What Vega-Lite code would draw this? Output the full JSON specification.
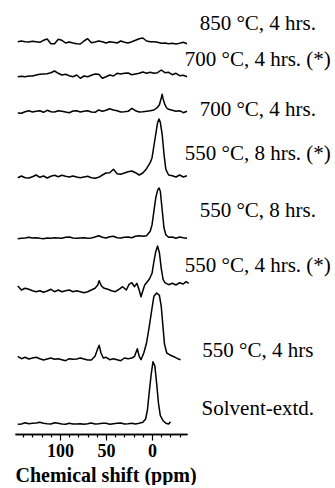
{
  "$schema": "https://vega.github.io/schema/vega-lite/v6.json",
  "padding": {"left": 15, "top": 10, "right": 0, "bottom": 0},
  "autosize": {"type": "pad"},
  "bounds": "flush",
  "spacing": 0,
  "background": "white",
  "config": {
    "view": {"stroke": null},
    "font": "Liberation Serif",
    "line": {"color": "black", "strokeWidth": 1.5, "strokeJoin": "round"},
    "text": {"font": "Liberation Serif", "fontSize": 21, "align": "center", "baseline": "alphabetic", "color": "black"}
  },
  "resolve": {"scale": {"x": "independent", "y": "independent"}},
  "data": {
    "values": [
      {"sample": "850 °C, 4 hrs.", "ppm": 146, "intensity": 0.3},
      {"sample": "850 °C, 4 hrs.", "ppm": 142, "intensity": 1},
      {"sample": "850 °C, 4 hrs.", "ppm": 138, "intensity": 0.3},
      {"sample": "850 °C, 4 hrs.", "ppm": 134, "intensity": 0},
      {"sample": "850 °C, 4 hrs.", "ppm": 130, "intensity": 0.7},
      {"sample": "850 °C, 4 hrs.", "ppm": 126, "intensity": 0.3},
      {"sample": "850 °C, 4 hrs.", "ppm": 122, "intensity": -0.3},
      {"sample": "850 °C, 4 hrs.", "ppm": 118, "intensity": 1.7},
      {"sample": "850 °C, 4 hrs.", "ppm": 114, "intensity": 3},
      {"sample": "850 °C, 4 hrs.", "ppm": 110, "intensity": -1.7},
      {"sample": "850 °C, 4 hrs.", "ppm": 106, "intensity": -1.7},
      {"sample": "850 °C, 4 hrs.", "ppm": 102, "intensity": 2.7},
      {"sample": "850 °C, 4 hrs.", "ppm": 98, "intensity": 1.7},
      {"sample": "850 °C, 4 hrs.", "ppm": 94, "intensity": -1},
      {"sample": "850 °C, 4 hrs.", "ppm": 90, "intensity": 0},
      {"sample": "850 °C, 4 hrs.", "ppm": 86, "intensity": -1},
      {"sample": "850 °C, 4 hrs.", "ppm": 82, "intensity": -1.7},
      {"sample": "850 °C, 4 hrs.", "ppm": 78, "intensity": -2},
      {"sample": "850 °C, 4 hrs.", "ppm": 74, "intensity": 1},
      {"sample": "850 °C, 4 hrs.", "ppm": 70, "intensity": 3.3},
      {"sample": "850 °C, 4 hrs.", "ppm": 66, "intensity": -0.7},
      {"sample": "850 °C, 4 hrs.", "ppm": 62, "intensity": 0},
      {"sample": "850 °C, 4 hrs.", "ppm": 58, "intensity": 1},
      {"sample": "850 °C, 4 hrs.", "ppm": 54, "intensity": 0.3},
      {"sample": "850 °C, 4 hrs.", "ppm": 50, "intensity": -1},
      {"sample": "850 °C, 4 hrs.", "ppm": 46, "intensity": 0.3},
      {"sample": "850 °C, 4 hrs.", "ppm": 42, "intensity": -0.3},
      {"sample": "850 °C, 4 hrs.", "ppm": 38, "intensity": -1},
      {"sample": "850 °C, 4 hrs.", "ppm": 34, "intensity": 1},
      {"sample": "850 °C, 4 hrs.", "ppm": 30, "intensity": -0.3},
      {"sample": "850 °C, 4 hrs.", "ppm": 26, "intensity": -1},
      {"sample": "850 °C, 4 hrs.", "ppm": 22, "intensity": 0.3},
      {"sample": "850 °C, 4 hrs.", "ppm": 18, "intensity": 1.7},
      {"sample": "850 °C, 4 hrs.", "ppm": 14, "intensity": 3.3},
      {"sample": "850 °C, 4 hrs.", "ppm": 10, "intensity": 4},
      {"sample": "850 °C, 4 hrs.", "ppm": 6, "intensity": 1},
      {"sample": "850 °C, 4 hrs.", "ppm": 2, "intensity": 0.3},
      {"sample": "850 °C, 4 hrs.", "ppm": -2, "intensity": 0.3},
      {"sample": "850 °C, 4 hrs.", "ppm": -6, "intensity": -0.3},
      {"sample": "850 °C, 4 hrs.", "ppm": -10, "intensity": -1.3},
      {"sample": "850 °C, 4 hrs.", "ppm": -14, "intensity": -1},
      {"sample": "850 °C, 4 hrs.", "ppm": -18, "intensity": -1.7},
      {"sample": "850 °C, 4 hrs.", "ppm": -22, "intensity": -1.3},
      {"sample": "850 °C, 4 hrs.", "ppm": -26, "intensity": -2},
      {"sample": "850 °C, 4 hrs.", "ppm": -30, "intensity": -1.3},
      {"sample": "850 °C, 4 hrs.", "ppm": -34, "intensity": -0.3},
      {"sample": "850 °C, 4 hrs.", "ppm": -38, "intensity": -1.7},

      {"sample": "700 °C, 4 hrs. (*)", "ppm": 146, "intensity": -0.7},
      {"sample": "700 °C, 4 hrs. (*)", "ppm": 142, "intensity": -0.3},
      {"sample": "700 °C, 4 hrs. (*)", "ppm": 138, "intensity": -0.7},
      {"sample": "700 °C, 4 hrs. (*)", "ppm": 134, "intensity": 0},
      {"sample": "700 °C, 4 hrs. (*)", "ppm": 130, "intensity": 0},
      {"sample": "700 °C, 4 hrs. (*)", "ppm": 126, "intensity": 1},
      {"sample": "700 °C, 4 hrs. (*)", "ppm": 122, "intensity": 1.7},
      {"sample": "700 °C, 4 hrs. (*)", "ppm": 118, "intensity": 2},
      {"sample": "700 °C, 4 hrs. (*)", "ppm": 114, "intensity": 2.3},
      {"sample": "700 °C, 4 hrs. (*)", "ppm": 110, "intensity": 3.3},
      {"sample": "700 °C, 4 hrs. (*)", "ppm": 106, "intensity": 5},
      {"sample": "700 °C, 4 hrs. (*)", "ppm": 102, "intensity": 2.7},
      {"sample": "700 °C, 4 hrs. (*)", "ppm": 98, "intensity": 1},
      {"sample": "700 °C, 4 hrs. (*)", "ppm": 94, "intensity": 1.7},
      {"sample": "700 °C, 4 hrs. (*)", "ppm": 90, "intensity": 0.3},
      {"sample": "700 °C, 4 hrs. (*)", "ppm": 86, "intensity": -0.7},
      {"sample": "700 °C, 4 hrs. (*)", "ppm": 82, "intensity": 1},
      {"sample": "700 °C, 4 hrs. (*)", "ppm": 78, "intensity": -2.3},
      {"sample": "700 °C, 4 hrs. (*)", "ppm": 74, "intensity": 0},
      {"sample": "700 °C, 4 hrs. (*)", "ppm": 70, "intensity": -0.7},
      {"sample": "700 °C, 4 hrs. (*)", "ppm": 66, "intensity": 0.7},
      {"sample": "700 °C, 4 hrs. (*)", "ppm": 62, "intensity": 2},
      {"sample": "700 °C, 4 hrs. (*)", "ppm": 58, "intensity": 1.7},
      {"sample": "700 °C, 4 hrs. (*)", "ppm": 54, "intensity": -2.3},
      {"sample": "700 °C, 4 hrs. (*)", "ppm": 50, "intensity": -0.7},
      {"sample": "700 °C, 4 hrs. (*)", "ppm": 46, "intensity": 1},
      {"sample": "700 °C, 4 hrs. (*)", "ppm": 42, "intensity": 0},
      {"sample": "700 °C, 4 hrs. (*)", "ppm": 38, "intensity": 2.7},
      {"sample": "700 °C, 4 hrs. (*)", "ppm": 34, "intensity": 2},
      {"sample": "700 °C, 4 hrs. (*)", "ppm": 30, "intensity": 2.7},
      {"sample": "700 °C, 4 hrs. (*)", "ppm": 26, "intensity": 3},
      {"sample": "700 °C, 4 hrs. (*)", "ppm": 22, "intensity": 1.3},
      {"sample": "700 °C, 4 hrs. (*)", "ppm": 18, "intensity": 2},
      {"sample": "700 °C, 4 hrs. (*)", "ppm": 14, "intensity": 2.7},
      {"sample": "700 °C, 4 hrs. (*)", "ppm": 10, "intensity": 4},
      {"sample": "700 °C, 4 hrs. (*)", "ppm": 6, "intensity": 2.7},
      {"sample": "700 °C, 4 hrs. (*)", "ppm": 2, "intensity": 3.7},
      {"sample": "700 °C, 4 hrs. (*)", "ppm": -2, "intensity": 2.7},
      {"sample": "700 °C, 4 hrs. (*)", "ppm": -6, "intensity": 3.3},
      {"sample": "700 °C, 4 hrs. (*)", "ppm": -10, "intensity": 6},
      {"sample": "700 °C, 4 hrs. (*)", "ppm": -14, "intensity": 3.3},
      {"sample": "700 °C, 4 hrs. (*)", "ppm": -18, "intensity": 3.7},
      {"sample": "700 °C, 4 hrs. (*)", "ppm": -22, "intensity": 1.3},
      {"sample": "700 °C, 4 hrs. (*)", "ppm": -26, "intensity": 2.7},
      {"sample": "700 °C, 4 hrs. (*)", "ppm": -30, "intensity": 0.3},
      {"sample": "700 °C, 4 hrs. (*)", "ppm": -34, "intensity": 0.7},
      {"sample": "700 °C, 4 hrs. (*)", "ppm": -38, "intensity": -0.7},

      {"sample": "700 °C, 4 hrs.", "ppm": 146, "intensity": -1},
      {"sample": "700 °C, 4 hrs.", "ppm": 142, "intensity": -1.3},
      {"sample": "700 °C, 4 hrs.", "ppm": 138, "intensity": 0.3},
      {"sample": "700 °C, 4 hrs.", "ppm": 134, "intensity": 1.3},
      {"sample": "700 °C, 4 hrs.", "ppm": 130, "intensity": 0},
      {"sample": "700 °C, 4 hrs.", "ppm": 126, "intensity": 0.7},
      {"sample": "700 °C, 4 hrs.", "ppm": 122, "intensity": 1.3},
      {"sample": "700 °C, 4 hrs.", "ppm": 118, "intensity": -0.3},
      {"sample": "700 °C, 4 hrs.", "ppm": 114, "intensity": 1.7},
      {"sample": "700 °C, 4 hrs.", "ppm": 110, "intensity": 0.3},
      {"sample": "700 °C, 4 hrs.", "ppm": 106, "intensity": 0},
      {"sample": "700 °C, 4 hrs.", "ppm": 102, "intensity": 1.3},
      {"sample": "700 °C, 4 hrs.", "ppm": 98, "intensity": 0.7},
      {"sample": "700 °C, 4 hrs.", "ppm": 94, "intensity": 0},
      {"sample": "700 °C, 4 hrs.", "ppm": 90, "intensity": -0.7},
      {"sample": "700 °C, 4 hrs.", "ppm": 86, "intensity": 1},
      {"sample": "700 °C, 4 hrs.", "ppm": 82, "intensity": 1.3},
      {"sample": "700 °C, 4 hrs.", "ppm": 78, "intensity": 0},
      {"sample": "700 °C, 4 hrs.", "ppm": 74, "intensity": 0.7},
      {"sample": "700 °C, 4 hrs.", "ppm": 70, "intensity": 1.3},
      {"sample": "700 °C, 4 hrs.", "ppm": 66, "intensity": 0},
      {"sample": "700 °C, 4 hrs.", "ppm": 62, "intensity": -0.3},
      {"sample": "700 °C, 4 hrs.", "ppm": 58, "intensity": 2},
      {"sample": "700 °C, 4 hrs.", "ppm": 54, "intensity": 0.7},
      {"sample": "700 °C, 4 hrs.", "ppm": 50, "intensity": 1.7},
      {"sample": "700 °C, 4 hrs.", "ppm": 46, "intensity": 3.3},
      {"sample": "700 °C, 4 hrs.", "ppm": 42, "intensity": 2},
      {"sample": "700 °C, 4 hrs.", "ppm": 38, "intensity": 1.3},
      {"sample": "700 °C, 4 hrs.", "ppm": 34, "intensity": 0},
      {"sample": "700 °C, 4 hrs.", "ppm": 30, "intensity": 0.3},
      {"sample": "700 °C, 4 hrs.", "ppm": 26, "intensity": 0.7},
      {"sample": "700 °C, 4 hrs.", "ppm": 22, "intensity": 3.7},
      {"sample": "700 °C, 4 hrs.", "ppm": 18, "intensity": 1.3},
      {"sample": "700 °C, 4 hrs.", "ppm": 14, "intensity": 0},
      {"sample": "700 °C, 4 hrs.", "ppm": 10, "intensity": 0.3},
      {"sample": "700 °C, 4 hrs.", "ppm": 6, "intensity": 0.7},
      {"sample": "700 °C, 4 hrs.", "ppm": 2, "intensity": 1.3},
      {"sample": "700 °C, 4 hrs.", "ppm": -2, "intensity": 2},
      {"sample": "700 °C, 4 hrs.", "ppm": -6, "intensity": 4.7},
      {"sample": "700 °C, 4 hrs.", "ppm": -8, "intensity": 7.3},
      {"sample": "700 °C, 4 hrs.", "ppm": -10, "intensity": 14},
      {"sample": "700 °C, 4 hrs.", "ppm": -11, "intensity": 17.7},
      {"sample": "700 °C, 4 hrs.", "ppm": -12, "intensity": 13.3},
      {"sample": "700 °C, 4 hrs.", "ppm": -14, "intensity": 7.3},
      {"sample": "700 °C, 4 hrs.", "ppm": -16, "intensity": 4},
      {"sample": "700 °C, 4 hrs.", "ppm": -18, "intensity": 2.7},
      {"sample": "700 °C, 4 hrs.", "ppm": -22, "intensity": 1.7},
      {"sample": "700 °C, 4 hrs.", "ppm": -26, "intensity": 0.7},
      {"sample": "700 °C, 4 hrs.", "ppm": -30, "intensity": 1.3},
      {"sample": "700 °C, 4 hrs.", "ppm": -34, "intensity": -0.7},
      {"sample": "700 °C, 4 hrs.", "ppm": -38, "intensity": 0.7},

      {"sample": "550 °C, 8 hrs. (*)", "ppm": 146, "intensity": -0.7},
      {"sample": "550 °C, 8 hrs. (*)", "ppm": 142, "intensity": 1},
      {"sample": "550 °C, 8 hrs. (*)", "ppm": 138, "intensity": -0.7},
      {"sample": "550 °C, 8 hrs. (*)", "ppm": 134, "intensity": -1},
      {"sample": "550 °C, 8 hrs. (*)", "ppm": 130, "intensity": 0.3},
      {"sample": "550 °C, 8 hrs. (*)", "ppm": 126, "intensity": 2},
      {"sample": "550 °C, 8 hrs. (*)", "ppm": 122, "intensity": -0.3},
      {"sample": "550 °C, 8 hrs. (*)", "ppm": 118, "intensity": 1},
      {"sample": "550 °C, 8 hrs. (*)", "ppm": 114, "intensity": -1},
      {"sample": "550 °C, 8 hrs. (*)", "ppm": 110, "intensity": 0.7},
      {"sample": "550 °C, 8 hrs. (*)", "ppm": 106, "intensity": 1.7},
      {"sample": "550 °C, 8 hrs. (*)", "ppm": 102, "intensity": 0.3},
      {"sample": "550 °C, 8 hrs. (*)", "ppm": 98, "intensity": 1.7},
      {"sample": "550 °C, 8 hrs. (*)", "ppm": 94, "intensity": 0.7},
      {"sample": "550 °C, 8 hrs. (*)", "ppm": 90, "intensity": 0},
      {"sample": "550 °C, 8 hrs. (*)", "ppm": 86, "intensity": 1},
      {"sample": "550 °C, 8 hrs. (*)", "ppm": 82, "intensity": 0},
      {"sample": "550 °C, 8 hrs. (*)", "ppm": 78, "intensity": -0.7},
      {"sample": "550 °C, 8 hrs. (*)", "ppm": 74, "intensity": 0},
      {"sample": "550 °C, 8 hrs. (*)", "ppm": 70, "intensity": 0.7},
      {"sample": "550 °C, 8 hrs. (*)", "ppm": 66, "intensity": -0.7},
      {"sample": "550 °C, 8 hrs. (*)", "ppm": 62, "intensity": -1.3},
      {"sample": "550 °C, 8 hrs. (*)", "ppm": 58, "intensity": -0.3},
      {"sample": "550 °C, 8 hrs. (*)", "ppm": 54, "intensity": 2},
      {"sample": "550 °C, 8 hrs. (*)", "ppm": 50, "intensity": 4},
      {"sample": "550 °C, 8 hrs. (*)", "ppm": 46, "intensity": 4.3},
      {"sample": "550 °C, 8 hrs. (*)", "ppm": 42, "intensity": 7.7},
      {"sample": "550 °C, 8 hrs. (*)", "ppm": 38, "intensity": 3.3},
      {"sample": "550 °C, 8 hrs. (*)", "ppm": 34, "intensity": 2.7},
      {"sample": "550 °C, 8 hrs. (*)", "ppm": 30, "intensity": 4},
      {"sample": "550 °C, 8 hrs. (*)", "ppm": 26, "intensity": 5.3},
      {"sample": "550 °C, 8 hrs. (*)", "ppm": 22, "intensity": 6},
      {"sample": "550 °C, 8 hrs. (*)", "ppm": 18, "intensity": 4.3},
      {"sample": "550 °C, 8 hrs. (*)", "ppm": 14, "intensity": 2},
      {"sample": "550 °C, 8 hrs. (*)", "ppm": 10, "intensity": 4},
      {"sample": "550 °C, 8 hrs. (*)", "ppm": 6, "intensity": 8.3},
      {"sample": "550 °C, 8 hrs. (*)", "ppm": 2, "intensity": 14.3},
      {"sample": "550 °C, 8 hrs. (*)", "ppm": 0, "intensity": 19.3},
      {"sample": "550 °C, 8 hrs. (*)", "ppm": -2, "intensity": 31},
      {"sample": "550 °C, 8 hrs. (*)", "ppm": -4, "intensity": 42.7},
      {"sample": "550 °C, 8 hrs. (*)", "ppm": -6, "intensity": 54.3},
      {"sample": "550 °C, 8 hrs. (*)", "ppm": -7.6, "intensity": 58},
      {"sample": "550 °C, 8 hrs. (*)", "ppm": -9, "intensity": 54.7},
      {"sample": "550 °C, 8 hrs. (*)", "ppm": -11, "intensity": 42.7},
      {"sample": "550 °C, 8 hrs. (*)", "ppm": -13, "intensity": 22.7},
      {"sample": "550 °C, 8 hrs. (*)", "ppm": -15, "intensity": 7.7},
      {"sample": "550 °C, 8 hrs. (*)", "ppm": -18, "intensity": 2},
      {"sample": "550 °C, 8 hrs. (*)", "ppm": -22, "intensity": 1.3},
      {"sample": "550 °C, 8 hrs. (*)", "ppm": -26, "intensity": 0},
      {"sample": "550 °C, 8 hrs. (*)", "ppm": -30, "intensity": 2},
      {"sample": "550 °C, 8 hrs. (*)", "ppm": -34, "intensity": 0},
      {"sample": "550 °C, 8 hrs. (*)", "ppm": -38, "intensity": 1.3},

      {"sample": "550 °C, 8 hrs.", "ppm": 146, "intensity": -0.7},
      {"sample": "550 °C, 8 hrs.", "ppm": 142, "intensity": -0.3},
      {"sample": "550 °C, 8 hrs.", "ppm": 138, "intensity": 0},
      {"sample": "550 °C, 8 hrs.", "ppm": 134, "intensity": 0.7},
      {"sample": "550 °C, 8 hrs.", "ppm": 130, "intensity": 0},
      {"sample": "550 °C, 8 hrs.", "ppm": 126, "intensity": 0.3},
      {"sample": "550 °C, 8 hrs.", "ppm": 122, "intensity": -0.3},
      {"sample": "550 °C, 8 hrs.", "ppm": 118, "intensity": -0.7},
      {"sample": "550 °C, 8 hrs.", "ppm": 114, "intensity": 0},
      {"sample": "550 °C, 8 hrs.", "ppm": 110, "intensity": -0.3},
      {"sample": "550 °C, 8 hrs.", "ppm": 106, "intensity": 0.3},
      {"sample": "550 °C, 8 hrs.", "ppm": 102, "intensity": 0},
      {"sample": "550 °C, 8 hrs.", "ppm": 98, "intensity": -0.3},
      {"sample": "550 °C, 8 hrs.", "ppm": 94, "intensity": 0.7},
      {"sample": "550 °C, 8 hrs.", "ppm": 90, "intensity": 1},
      {"sample": "550 °C, 8 hrs.", "ppm": 86, "intensity": 0},
      {"sample": "550 °C, 8 hrs.", "ppm": 82, "intensity": -0.3},
      {"sample": "550 °C, 8 hrs.", "ppm": 78, "intensity": 0},
      {"sample": "550 °C, 8 hrs.", "ppm": 74, "intensity": 0.3},
      {"sample": "550 °C, 8 hrs.", "ppm": 70, "intensity": -0.3},
      {"sample": "550 °C, 8 hrs.", "ppm": 66, "intensity": 0},
      {"sample": "550 °C, 8 hrs.", "ppm": 62, "intensity": 1},
      {"sample": "550 °C, 8 hrs.", "ppm": 58, "intensity": 2.3},
      {"sample": "550 °C, 8 hrs.", "ppm": 54, "intensity": 0.7},
      {"sample": "550 °C, 8 hrs.", "ppm": 50, "intensity": 0},
      {"sample": "550 °C, 8 hrs.", "ppm": 46, "intensity": 1.3},
      {"sample": "550 °C, 8 hrs.", "ppm": 42, "intensity": 1.7},
      {"sample": "550 °C, 8 hrs.", "ppm": 38, "intensity": 0.3},
      {"sample": "550 °C, 8 hrs.", "ppm": 34, "intensity": 0},
      {"sample": "550 °C, 8 hrs.", "ppm": 30, "intensity": 0.7},
      {"sample": "550 °C, 8 hrs.", "ppm": 26, "intensity": 1},
      {"sample": "550 °C, 8 hrs.", "ppm": 22, "intensity": 0.3},
      {"sample": "550 °C, 8 hrs.", "ppm": 18, "intensity": 1.7},
      {"sample": "550 °C, 8 hrs.", "ppm": 14, "intensity": 2.3},
      {"sample": "550 °C, 8 hrs.", "ppm": 10, "intensity": 1.7},
      {"sample": "550 °C, 8 hrs.", "ppm": 6, "intensity": 2.3},
      {"sample": "550 °C, 8 hrs.", "ppm": 2, "intensity": 6.7},
      {"sample": "550 °C, 8 hrs.", "ppm": 0, "intensity": 13.3},
      {"sample": "550 °C, 8 hrs.", "ppm": -2, "intensity": 26.7},
      {"sample": "550 °C, 8 hrs.", "ppm": -4, "intensity": 40},
      {"sample": "550 °C, 8 hrs.", "ppm": -6, "intensity": 47.7},
      {"sample": "550 °C, 8 hrs.", "ppm": -7.6, "intensity": 50},
      {"sample": "550 °C, 8 hrs.", "ppm": -9, "intensity": 46.7},
      {"sample": "550 °C, 8 hrs.", "ppm": -11, "intensity": 28.3},
      {"sample": "550 °C, 8 hrs.", "ppm": -13, "intensity": 10},
      {"sample": "550 °C, 8 hrs.", "ppm": -15, "intensity": 3.3},
      {"sample": "550 °C, 8 hrs.", "ppm": -18, "intensity": 0.7},
      {"sample": "550 °C, 8 hrs.", "ppm": -22, "intensity": 1},
      {"sample": "550 °C, 8 hrs.", "ppm": -26, "intensity": -0.3},
      {"sample": "550 °C, 8 hrs.", "ppm": -30, "intensity": 1},
      {"sample": "550 °C, 8 hrs.", "ppm": -34, "intensity": 0.3},
      {"sample": "550 °C, 8 hrs.", "ppm": -38, "intensity": -0.3},

      {"sample": "550 °C, 4 hrs. (*)", "ppm": 146, "intensity": 4},
      {"sample": "550 °C, 4 hrs. (*)", "ppm": 142, "intensity": 0},
      {"sample": "550 °C, 4 hrs. (*)", "ppm": 138, "intensity": 1.7},
      {"sample": "550 °C, 4 hrs. (*)", "ppm": 134, "intensity": 0.7},
      {"sample": "550 °C, 4 hrs. (*)", "ppm": 130, "intensity": -0.7},
      {"sample": "550 °C, 4 hrs. (*)", "ppm": 126, "intensity": -1.7},
      {"sample": "550 °C, 4 hrs. (*)", "ppm": 122, "intensity": -0.7},
      {"sample": "550 °C, 4 hrs. (*)", "ppm": 118, "intensity": -2.3},
      {"sample": "550 °C, 4 hrs. (*)", "ppm": 114, "intensity": -1},
      {"sample": "550 °C, 4 hrs. (*)", "ppm": 110, "intensity": 0.7},
      {"sample": "550 °C, 4 hrs. (*)", "ppm": 106, "intensity": -1.7},
      {"sample": "550 °C, 4 hrs. (*)", "ppm": 102, "intensity": 0},
      {"sample": "550 °C, 4 hrs. (*)", "ppm": 98, "intensity": -1.7},
      {"sample": "550 °C, 4 hrs. (*)", "ppm": 94, "intensity": -0.7},
      {"sample": "550 °C, 4 hrs. (*)", "ppm": 90, "intensity": 0},
      {"sample": "550 °C, 4 hrs. (*)", "ppm": 86, "intensity": -1.7},
      {"sample": "550 °C, 4 hrs. (*)", "ppm": 82, "intensity": -0.7},
      {"sample": "550 °C, 4 hrs. (*)", "ppm": 78, "intensity": -1.7},
      {"sample": "550 °C, 4 hrs. (*)", "ppm": 74, "intensity": -2.7},
      {"sample": "550 °C, 4 hrs. (*)", "ppm": 70, "intensity": -1.7},
      {"sample": "550 °C, 4 hrs. (*)", "ppm": 66, "intensity": 0},
      {"sample": "550 °C, 4 hrs. (*)", "ppm": 62, "intensity": 1.7},
      {"sample": "550 °C, 4 hrs. (*)", "ppm": 59, "intensity": 5},
      {"sample": "550 °C, 4 hrs. (*)", "ppm": 57.5, "intensity": 9.3},
      {"sample": "550 °C, 4 hrs. (*)", "ppm": 55, "intensity": 4},
      {"sample": "550 °C, 4 hrs. (*)", "ppm": 52, "intensity": 1.7},
      {"sample": "550 °C, 4 hrs. (*)", "ppm": 48, "intensity": 0.7},
      {"sample": "550 °C, 4 hrs. (*)", "ppm": 44, "intensity": -0.7},
      {"sample": "550 °C, 4 hrs. (*)", "ppm": 40, "intensity": -1.7},
      {"sample": "550 °C, 4 hrs. (*)", "ppm": 36, "intensity": 0.7},
      {"sample": "550 °C, 4 hrs. (*)", "ppm": 32, "intensity": 3.3},
      {"sample": "550 °C, 4 hrs. (*)", "ppm": 28, "intensity": 0},
      {"sample": "550 °C, 4 hrs. (*)", "ppm": 25, "intensity": 5.7},
      {"sample": "550 °C, 4 hrs. (*)", "ppm": 22, "intensity": 7.3},
      {"sample": "550 °C, 4 hrs. (*)", "ppm": 19, "intensity": 3.3},
      {"sample": "550 °C, 4 hrs. (*)", "ppm": 16.5, "intensity": 6.7},
      {"sample": "550 °C, 4 hrs. (*)", "ppm": 14, "intensity": 0},
      {"sample": "550 °C, 4 hrs. (*)", "ppm": 12, "intensity": -6.7},
      {"sample": "550 °C, 4 hrs. (*)", "ppm": 10, "intensity": -0.7},
      {"sample": "550 °C, 4 hrs. (*)", "ppm": 8, "intensity": 5},
      {"sample": "550 °C, 4 hrs. (*)", "ppm": 6, "intensity": 7.3},
      {"sample": "550 °C, 4 hrs. (*)", "ppm": 3, "intensity": 10.7},
      {"sample": "550 °C, 4 hrs. (*)", "ppm": 0, "intensity": 16.7},
      {"sample": "550 °C, 4 hrs. (*)", "ppm": -2, "intensity": 28.3},
      {"sample": "550 °C, 4 hrs. (*)", "ppm": -4, "intensity": 38.3},
      {"sample": "550 °C, 4 hrs. (*)", "ppm": -6, "intensity": 44},
      {"sample": "550 °C, 4 hrs. (*)", "ppm": -8, "intensity": 37.3},
      {"sample": "550 °C, 4 hrs. (*)", "ppm": -10, "intensity": 21.7},
      {"sample": "550 °C, 4 hrs. (*)", "ppm": -12, "intensity": 10.7},
      {"sample": "550 °C, 4 hrs. (*)", "ppm": -14, "intensity": 7.3},
      {"sample": "550 °C, 4 hrs. (*)", "ppm": -18, "intensity": 5.3},
      {"sample": "550 °C, 4 hrs. (*)", "ppm": -22, "intensity": 6.7},
      {"sample": "550 °C, 4 hrs. (*)", "ppm": -26, "intensity": 5},
      {"sample": "550 °C, 4 hrs. (*)", "ppm": -30, "intensity": 7.3},
      {"sample": "550 °C, 4 hrs. (*)", "ppm": -34, "intensity": 6},
      {"sample": "550 °C, 4 hrs. (*)", "ppm": -37, "intensity": 8.3},
      {"sample": "550 °C, 4 hrs. (*)", "ppm": -40, "intensity": 6.7},

      {"sample": "550 °C, 4 hrs", "ppm": 146, "intensity": 1.7},
      {"sample": "550 °C, 4 hrs", "ppm": 142, "intensity": -0.7},
      {"sample": "550 °C, 4 hrs", "ppm": 138, "intensity": 0.7},
      {"sample": "550 °C, 4 hrs", "ppm": 134, "intensity": -1},
      {"sample": "550 °C, 4 hrs", "ppm": 130, "intensity": 0},
      {"sample": "550 °C, 4 hrs", "ppm": 126, "intensity": 0.7},
      {"sample": "550 °C, 4 hrs", "ppm": 122, "intensity": -0.7},
      {"sample": "550 °C, 4 hrs", "ppm": 118, "intensity": -2},
      {"sample": "550 °C, 4 hrs", "ppm": 114, "intensity": -1},
      {"sample": "550 °C, 4 hrs", "ppm": 110, "intensity": 0},
      {"sample": "550 °C, 4 hrs", "ppm": 106, "intensity": -1.3},
      {"sample": "550 °C, 4 hrs", "ppm": 102, "intensity": -0.7},
      {"sample": "550 °C, 4 hrs", "ppm": 98, "intensity": -1.7},
      {"sample": "550 °C, 4 hrs", "ppm": 94, "intensity": -2.7},
      {"sample": "550 °C, 4 hrs", "ppm": 90, "intensity": -0.7},
      {"sample": "550 °C, 4 hrs", "ppm": 86, "intensity": -1.3},
      {"sample": "550 °C, 4 hrs", "ppm": 82, "intensity": -1},
      {"sample": "550 °C, 4 hrs", "ppm": 78, "intensity": 0},
      {"sample": "550 °C, 4 hrs", "ppm": 74, "intensity": -1},
      {"sample": "550 °C, 4 hrs", "ppm": 70, "intensity": -2},
      {"sample": "550 °C, 4 hrs", "ppm": 66, "intensity": -2},
      {"sample": "550 °C, 4 hrs", "ppm": 62, "intensity": 1.7},
      {"sample": "550 °C, 4 hrs", "ppm": 59.5, "intensity": 8.3},
      {"sample": "550 °C, 4 hrs", "ppm": 57.5, "intensity": 12.7},
      {"sample": "550 °C, 4 hrs", "ppm": 55.5, "intensity": 5},
      {"sample": "550 °C, 4 hrs", "ppm": 53, "intensity": 0},
      {"sample": "550 °C, 4 hrs", "ppm": 50, "intensity": 0.7},
      {"sample": "550 °C, 4 hrs", "ppm": 46, "intensity": -1.7},
      {"sample": "550 °C, 4 hrs", "ppm": 42, "intensity": -0.7},
      {"sample": "550 °C, 4 hrs", "ppm": 38, "intensity": -1.7},
      {"sample": "550 °C, 4 hrs", "ppm": 34, "intensity": -2.7},
      {"sample": "550 °C, 4 hrs", "ppm": 30, "intensity": 0},
      {"sample": "550 °C, 4 hrs", "ppm": 26, "intensity": -0.7},
      {"sample": "550 °C, 4 hrs", "ppm": 22, "intensity": 0},
      {"sample": "550 °C, 4 hrs", "ppm": 19, "intensity": 1.7},
      {"sample": "550 °C, 4 hrs", "ppm": 16, "intensity": 9.3},
      {"sample": "550 °C, 4 hrs", "ppm": 14, "intensity": 1.7},
      {"sample": "550 °C, 4 hrs", "ppm": 12, "intensity": -1.7},
      {"sample": "550 °C, 4 hrs", "ppm": 9, "intensity": 5},
      {"sample": "550 °C, 4 hrs", "ppm": 6, "intensity": 15},
      {"sample": "550 °C, 4 hrs", "ppm": 3, "intensity": 31.7},
      {"sample": "550 °C, 4 hrs", "ppm": 0, "intensity": 50},
      {"sample": "550 °C, 4 hrs", "ppm": -2, "intensity": 61.7},
      {"sample": "550 °C, 4 hrs", "ppm": -5, "intensity": 65},
      {"sample": "550 °C, 4 hrs", "ppm": -8, "intensity": 62.7},
      {"sample": "550 °C, 4 hrs", "ppm": -10, "intensity": 51.7},
      {"sample": "550 °C, 4 hrs", "ppm": -12, "intensity": 30},
      {"sample": "550 °C, 4 hrs", "ppm": -13.5, "intensity": 14},
      {"sample": "550 °C, 4 hrs", "ppm": -16, "intensity": 5},
      {"sample": "550 °C, 4 hrs", "ppm": -19, "intensity": 3.3},
      {"sample": "550 °C, 4 hrs", "ppm": -22, "intensity": 2},
      {"sample": "550 °C, 4 hrs", "ppm": -25, "intensity": 0.7},
      {"sample": "550 °C, 4 hrs", "ppm": -28, "intensity": -0.7},
      {"sample": "550 °C, 4 hrs", "ppm": -31, "intensity": -1.7},

      {"sample": "Solvent-extd.", "ppm": 146, "intensity": -0.3},
      {"sample": "Solvent-extd.", "ppm": 142, "intensity": 0},
      {"sample": "Solvent-extd.", "ppm": 138, "intensity": 1.3},
      {"sample": "Solvent-extd.", "ppm": 134, "intensity": 0.3},
      {"sample": "Solvent-extd.", "ppm": 130, "intensity": 0.7},
      {"sample": "Solvent-extd.", "ppm": 126, "intensity": 1},
      {"sample": "Solvent-extd.", "ppm": 122, "intensity": 1.7},
      {"sample": "Solvent-extd.", "ppm": 118, "intensity": 0.7},
      {"sample": "Solvent-extd.", "ppm": 114, "intensity": 0.3},
      {"sample": "Solvent-extd.", "ppm": 110, "intensity": 0},
      {"sample": "Solvent-extd.", "ppm": 106, "intensity": 1.3},
      {"sample": "Solvent-extd.", "ppm": 102, "intensity": 0.7},
      {"sample": "Solvent-extd.", "ppm": 98, "intensity": 0},
      {"sample": "Solvent-extd.", "ppm": 94, "intensity": -0.3},
      {"sample": "Solvent-extd.", "ppm": 90, "intensity": 0.7},
      {"sample": "Solvent-extd.", "ppm": 86, "intensity": 0},
      {"sample": "Solvent-extd.", "ppm": 82, "intensity": 0},
      {"sample": "Solvent-extd.", "ppm": 78, "intensity": 0.3},
      {"sample": "Solvent-extd.", "ppm": 74, "intensity": -0.3},
      {"sample": "Solvent-extd.", "ppm": 70, "intensity": 0.3},
      {"sample": "Solvent-extd.", "ppm": 66, "intensity": 1},
      {"sample": "Solvent-extd.", "ppm": 62, "intensity": 0},
      {"sample": "Solvent-extd.", "ppm": 58, "intensity": 0.3},
      {"sample": "Solvent-extd.", "ppm": 54, "intensity": 0.7},
      {"sample": "Solvent-extd.", "ppm": 50, "intensity": 0.7},
      {"sample": "Solvent-extd.", "ppm": 46, "intensity": -0.3},
      {"sample": "Solvent-extd.", "ppm": 42, "intensity": 0.3},
      {"sample": "Solvent-extd.", "ppm": 38, "intensity": 0.7},
      {"sample": "Solvent-extd.", "ppm": 34, "intensity": 1},
      {"sample": "Solvent-extd.", "ppm": 30, "intensity": 0},
      {"sample": "Solvent-extd.", "ppm": 26, "intensity": 0.3},
      {"sample": "Solvent-extd.", "ppm": 22, "intensity": 0.7},
      {"sample": "Solvent-extd.", "ppm": 18, "intensity": 0},
      {"sample": "Solvent-extd.", "ppm": 14, "intensity": 0.7},
      {"sample": "Solvent-extd.", "ppm": 10, "intensity": 1.7},
      {"sample": "Solvent-extd.", "ppm": 7, "intensity": 5},
      {"sample": "Solvent-extd.", "ppm": 5, "intensity": 14},
      {"sample": "Solvent-extd.", "ppm": 3, "intensity": 32.3},
      {"sample": "Solvent-extd.", "ppm": 1, "intensity": 49},
      {"sample": "Solvent-extd.", "ppm": -1, "intensity": 62.3},
      {"sample": "Solvent-extd.", "ppm": -3, "intensity": 58.3},
      {"sample": "Solvent-extd.", "ppm": -5, "intensity": 40.7},
      {"sample": "Solvent-extd.", "ppm": -7, "intensity": 20.7},
      {"sample": "Solvent-extd.", "ppm": -9, "intensity": 8.3},
      {"sample": "Solvent-extd.", "ppm": -12, "intensity": 3.3},
      {"sample": "Solvent-extd.", "ppm": -15, "intensity": 0.7},
      {"sample": "Solvent-extd.", "ppm": -18, "intensity": 0},
      {"sample": "Solvent-extd.", "ppm": -20, "intensity": 2.3}
    ]
  },
  "vconcat": [
    {
      "width": 172, "height": 40,
      "transform": [{"filter": {"field": "sample", "equal": "850 °C, 4 hrs."}}],
      "layer": [
        {"mark": "line", "encoding": {
          "x": {"field": "ppm", "type": "quantitative", "scale": {"domain": [-38, 149], "reverse": true, "nice": false, "zero": false}, "axis": null},
          "y": {"field": "intensity", "type": "quantitative", "scale": {"domain": [-8, 32], "nice": false, "zero": false}, "axis": null}}},
        {"transform": [{"aggregate": [{"op": "count", "as": "n"}], "groupby": ["sample"]}],
         "mark": "text", "encoding": {"text": {"field": "sample"}, "x": {"datum": -115, "type": "quantitative"}, "y": {"datum": 12, "type": "quantitative"}}}
      ]
    },
    {
      "width": 172, "height": 34,
      "transform": [{"filter": {"field": "sample", "equal": "700 °C, 4 hrs. (*)"}}],
      "layer": [
        {"mark": "line", "encoding": {
          "x": {"field": "ppm", "type": "quantitative", "scale": {"domain": [-38, 149], "reverse": true, "nice": false, "zero": false}, "axis": null},
          "y": {"field": "intensity", "type": "quantitative", "scale": {"domain": [-8, 26], "nice": false, "zero": false}, "axis": null}}},
        {"transform": [{"aggregate": [{"op": "count", "as": "n"}], "groupby": ["sample"]}],
         "mark": "text", "encoding": {"text": {"field": "sample"}, "x": {"datum": -115, "type": "quantitative"}, "y": {"datum": 10, "type": "quantitative"}}}
      ]
    },
    {
      "width": 172, "height": 36,
      "transform": [{"filter": {"field": "sample", "equal": "700 °C, 4 hrs."}}],
      "layer": [
        {"mark": "line", "encoding": {
          "x": {"field": "ppm", "type": "quantitative", "scale": {"domain": [-38, 149], "reverse": true, "nice": false, "zero": false}, "axis": null},
          "y": {"field": "intensity", "type": "quantitative", "scale": {"domain": [-8, 28], "nice": false, "zero": false}, "axis": null}}},
        {"transform": [{"aggregate": [{"op": "count", "as": "n"}], "groupby": ["sample"]}],
         "mark": "text", "encoding": {"text": {"field": "sample"}, "x": {"datum": -115, "type": "quantitative"}, "y": {"datum": -4, "type": "quantitative"}}}
      ]
    },
    {
      "width": 172, "height": 65,
      "transform": [{"filter": {"field": "sample", "equal": "550 °C, 8 hrs. (*)"}}],
      "layer": [
        {"mark": "line", "encoding": {
          "x": {"field": "ppm", "type": "quantitative", "scale": {"domain": [-38, 149], "reverse": true, "nice": false, "zero": false}, "axis": null},
          "y": {"field": "intensity", "type": "quantitative", "scale": {"domain": [-8, 57], "nice": false, "zero": false}, "axis": null}}},
        {"transform": [{"aggregate": [{"op": "count", "as": "n"}], "groupby": ["sample"]}],
         "mark": "text", "encoding": {"text": {"field": "sample"}, "x": {"datum": -115, "type": "quantitative"}, "y": {"datum": 17, "type": "quantitative"}}}
      ]
    },
    {
      "width": 172, "height": 61,
      "transform": [{"filter": {"field": "sample", "equal": "550 °C, 8 hrs."}}],
      "layer": [
        {"mark": "line", "encoding": {
          "x": {"field": "ppm", "type": "quantitative", "scale": {"domain": [-38, 149], "reverse": true, "nice": false, "zero": false}, "axis": null},
          "y": {"field": "intensity", "type": "quantitative", "scale": {"domain": [-8, 53], "nice": false, "zero": false}, "axis": null}}},
        {"transform": [{"aggregate": [{"op": "count", "as": "n"}], "groupby": ["sample"]}],
         "mark": "text", "encoding": {"text": {"field": "sample"}, "x": {"datum": -115, "type": "quantitative"}, "y": {"datum": 21, "type": "quantitative"}}}
      ]
    },
    {
      "width": 172, "height": 52,
      "transform": [{"filter": {"field": "sample", "equal": "550 °C, 4 hrs. (*)"}}],
      "layer": [
        {"mark": "line", "encoding": {
          "x": {"field": "ppm", "type": "quantitative", "scale": {"domain": [-38, 149], "reverse": true, "nice": false, "zero": false}, "axis": null},
          "y": {"field": "intensity", "type": "quantitative", "scale": {"domain": [-8, 44], "nice": false, "zero": false}, "axis": null}}},
        {"transform": [{"aggregate": [{"op": "count", "as": "n"}], "groupby": ["sample"]}],
         "mark": "text", "encoding": {"text": {"field": "sample"}, "x": {"datum": -115, "type": "quantitative"}, "y": {"datum": 18, "type": "quantitative"}}}
      ]
    },
    {
      "width": 172, "height": 68,
      "transform": [{"filter": {"field": "sample", "equal": "550 °C, 4 hrs"}}],
      "layer": [
        {"mark": "line", "encoding": {
          "x": {"field": "ppm", "type": "quantitative", "scale": {"domain": [-38, 149], "reverse": true, "nice": false, "zero": false}, "axis": null},
          "y": {"field": "intensity", "type": "quantitative", "scale": {"domain": [-8, 60], "nice": false, "zero": false}, "axis": null}}},
        {"transform": [{"aggregate": [{"op": "count", "as": "n"}], "groupby": ["sample"]}],
         "mark": "text", "encoding": {"text": {"field": "sample"}, "x": {"datum": -115, "type": "quantitative"}, "y": {"datum": 1, "type": "quantitative"}}}
      ]
    },
    {
      "width": 172, "height": 68,
      "transform": [{"filter": {"field": "sample", "equal": "Solvent-extd."}}],
      "resolve": {"axis": {"x": "independent"}},
      "layer": [
        {"mark": "line", "encoding": {
          "x": {"field": "ppm", "type": "quantitative", "scale": {"domain": [-38, 149], "reverse": true, "nice": false, "zero": false},
            "axis": {
              "orient": "bottom",
              "values": [100, 50, 0],
              "tickSize": 6, "tickColor": "black", "tickWidth": 1.2,
              "grid": false,
              "domainColor": "black", "domainWidth": 1.5,
              "labelFont": "Liberation Serif", "labelFontWeight": "bold", "labelFontSize": 18, "labelColor": "black",
              "labelPadding": 2, "labelFlush": false, "labelOverlap": false,
              "title": "Chemical shift (ppm)",
              "titleFont": "Liberation Serif", "titleFontWeight": "bold", "titleFontSize": 20, "titleColor": "black",
              "titleAnchor": "end", "titleAlign": "left", "titlePadding": 5
            }},
          "y": {"field": "intensity", "type": "quantitative", "scale": {"domain": [-10, 58], "nice": false, "zero": false}, "axis": null}}},
        {"transform": [{"aggregate": [{"op": "count", "as": "n"}], "groupby": ["sample"]}],
         "mark": "text", "encoding": {"text": {"field": "sample"},
          "x": {"datum": -115, "type": "quantitative",
            "axis": {
              "orient": "bottom",
              "values": [140, 130, 120, 110, 90, 80, 70, 60, 40, 30, 20, 10, -10, -20, -30],
              "tickSize": 3, "tickColor": "black", "tickWidth": 1.2,
              "grid": false, "labels": false, "title": null,
              "domainColor": "black", "domainWidth": 1.5
            }},
          "y": {"datum": 9, "type": "quantitative"}}}
      ]
    }
  ]
}
